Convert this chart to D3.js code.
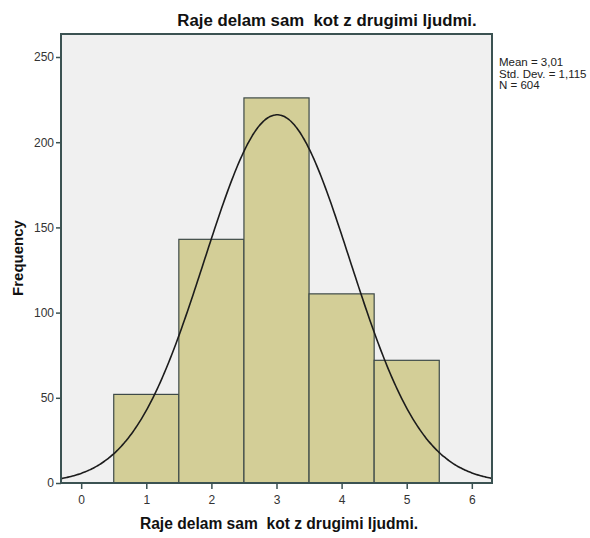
<!DOCTYPE html>
<html>
<head>
<meta charset="utf-8">
<script src="https://cdn.jsdelivr.net/npm/d3@7"></script>
<style>
  html, body { margin: 0; padding: 0; background: #ffffff; }
  svg { display: block; font-family: "Liberation Sans", Arial, sans-serif; }
</style>
</head>
<body>
<svg id="chart" width="590" height="538"></svg>
<script>
// Histogram data: response categories and their counts
const categories = [1, 2, 3, 4, 5];
const counts = [52, 143, 226, 111, 72];
const xTicks = [0, 1, 2, 3, 4, 5, 6];
const yTicks = [0, 50, 100, 150, 200, 250];

// Summary statistics shown beside the plot
const statMean = 3.01;
const statSd = 1.115;
const statN = 604;
const statLines = ["Mean = 3,01", "Std. Dev. = 1,115", "N = 604"];

const titleText = "Raje delam sam  kot z drugimi ljudmi.";
const xLabel = "Raje delam sam  kot z drugimi ljudmi.";
const yLabel = "Frequency";

const svg = d3.select("#chart");
const frame = { left: 61, right: 492, top: 34, bottom: 483 };

const x = d3.scaleLinear().domain([-0.31, 6.31]).range([frame.left, frame.right]);
const y = d3.scaleLinear().domain([0, 263.5]).range([frame.bottom, frame.top]);

const frameColor = "#3b5252";

// plot background
svg.append("rect")
  .attr("x", frame.left).attr("y", frame.top)
  .attr("width", frame.right - frame.left)
  .attr("height", frame.bottom - frame.top)
  .attr("fill", "#f0f0f0");

// bars (bin width 1, centred on each category)
const bins = categories.map((c, i) => ({ c, n: counts[i] }));
svg.append("g").selectAll("rect").data(bins).join("rect")
  .attr("x", d => x(d.c - 0.5))
  .attr("y", d => y(d.n))
  .attr("width", d => x(d.c + 0.5) - x(d.c - 0.5))
  .attr("height", d => y(0) - y(d.n))
  .attr("fill", "#d3ce97")
  .attr("stroke", "#3e4a48")
  .attr("stroke-width", 1.2);

// fitted normal curve scaled to counts
const binWidth = 1;
const normal = v => statN * binWidth / (statSd * Math.sqrt(2 * Math.PI)) *
  Math.exp(-0.5 * Math.pow((v - statMean) / statSd, 2));
const curvePts = d3.range(0, 301).map(i => {
  const v = x.domain()[0] + (x.domain()[1] - x.domain()[0]) * i / 300;
  return [v, normal(v)];
});
svg.append("path")
  .datum(curvePts)
  .attr("d", d3.line().x(d => x(d[0])).y(d => y(d[1])).curve(d3.curveBasis))
  .attr("fill", "none")
  .attr("stroke", "#1c1c1c")
  .attr("stroke-width", 1.6);

// frame
svg.append("rect")
  .attr("x", frame.left).attr("y", frame.top)
  .attr("width", frame.right - frame.left)
  .attr("height", frame.bottom - frame.top)
  .attr("fill", "none")
  .attr("stroke", frameColor)
  .attr("stroke-width", 2);

// axes
const yAxis = d3.axisLeft(y).tickValues(yTicks).tickSize(5).tickPadding(2).tickFormat(d3.format("d"));
const gy = svg.append("g").attr("transform", `translate(${frame.left},0)`).call(yAxis);
const xAxis = d3.axisBottom(x).tickValues(xTicks).tickSize(6).tickPadding(6).tickFormat(d3.format("d"));
const gx = svg.append("g").attr("transform", `translate(0,${frame.bottom})`).call(xAxis);
[gx, gy].forEach(g => {
  g.select(".domain").remove();
  g.selectAll(".tick line").attr("stroke", frameColor).attr("stroke-width", 1.5);
  g.selectAll(".tick text")
    .attr("fill", "#333")
    .style("font-size", "12px")
    .style("font-family", "'Liberation Sans', Arial, sans-serif");
});

// title
svg.append("text")
  .attr("x", 327).attr("y", 26)
  .attr("text-anchor", "middle")
  .style("white-space", "pre")
  .style("font-size", "16.8px").style("font-weight", "bold")
  .attr("fill", "#111")
  .text(titleText);

// x axis label
svg.append("text")
  .attr("x", 279).attr("y", 529)
  .attr("text-anchor", "middle")
  .style("white-space", "pre")
  .style("font-size", "15.6px").style("font-weight", "bold")
  .attr("fill", "#111")
  .text(xLabel);

// y axis label
svg.append("text")
  .attr("transform", "translate(23,258) rotate(-90)")
  .attr("text-anchor", "middle")
  .style("font-size", "15px").style("font-weight", "bold")
  .attr("fill", "#111")
  .text(yLabel);

// statistics block
svg.append("g").selectAll("text").data(statLines).join("text")
  .attr("x", 499)
  .attr("y", (d, i) => 66 + i * 11.5)
  .style("font-size", "11.5px")
  .attr("fill", "#222")
  .text(d => d);
</script>
</body>
</html>
